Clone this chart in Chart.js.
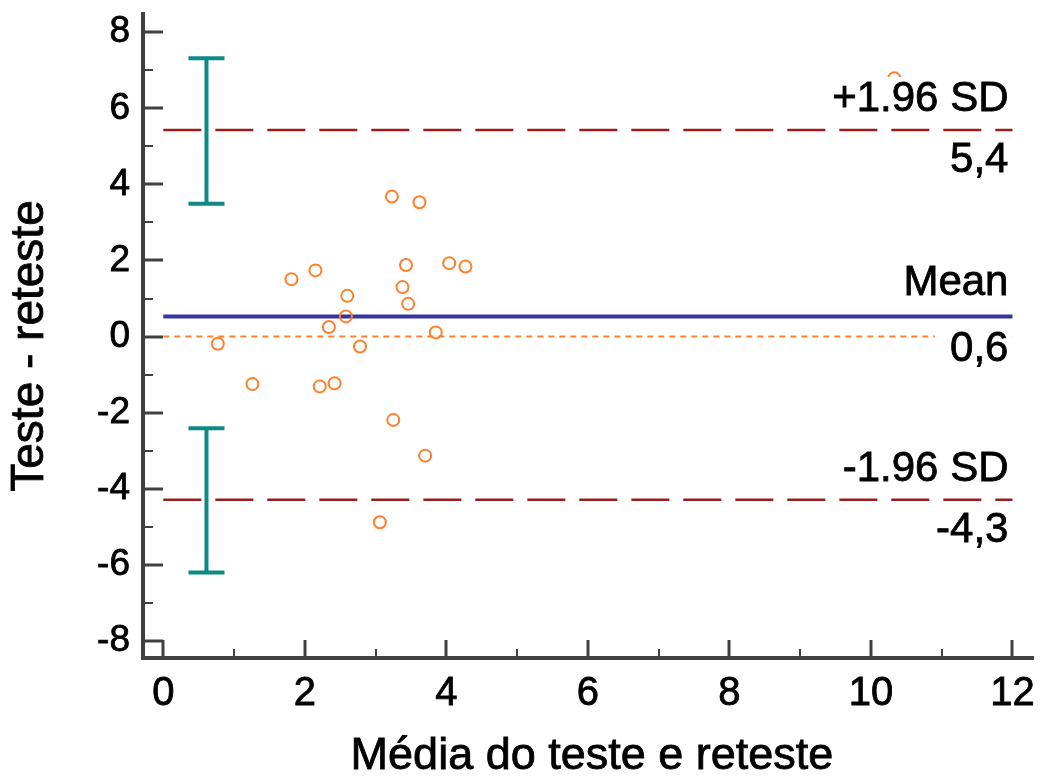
<!DOCTYPE html>
<html><head><meta charset="utf-8">
<script src="https://cdn.jsdelivr.net/npm/chart.js@4.4.1/dist/chart.umd.min.js"></script>
<style>html,body{margin:0;padding:0;background:#fff}canvas{display:block}</style>
</head><body>
<canvas id="c" width="1045" height="780"></canvas>
<script>
// ---- data ----
const meanValues = [0.77,1.26,1.81,2.15,2.21,2.42,2.34,2.58,2.60,2.78,3.06,3.23,3.25,3.38,3.43,3.46,3.62,3.70,3.85,4.04,4.27,10.33];
const diffValues = [-0.19,-1.25,1.51,1.74,-1.31,-1.23,0.25,0.53,1.07,-0.26,-4.88,3.68,-2.19,1.30,1.88,0.86,3.53,-3.13,0.11,1.93,1.84,6.79];
const limitValues = [5.43, 0.53, -4.29];          // +1.96 SD, mean, -1.96 SD
const limitNames = ['+1.96 SD', 'Mean', '-1.96 SD'];
const limitValueLabels = ['5,4', '0,6', '-4,3'];
const ciX = 0.61;
const upperCI = [3.49, 7.32];
const lowerCI = [-6.20, -2.41];
const xTicks = [0,2,4,6,8,10,12];
const xMinorTicks = [1,3,5,7,9,11];
const yTicks = [-8,-6,-4,-2,0,2,4,6,8];
const yMinorTicks = [-7,-5,-3,-1,1,3,5,7];
const xRange = [0, 12];
const xTitle = 'Média do teste e reteste';
const yTitle = 'Teste - reteste';

const FONT = '"Liberation Sans", Arial, sans-serif';
const AXIS = '#404040';
const TXT_STROKE = 0.8;

const points = meanValues.map((m,i)=>({x:m, y:diffValues[i]}));
const hline = v => [{x:xRange[0], y:v},{x:xRange[1], y:v}];

function heavyText(ctx, t, x, y){
  ctx.fillText(t, x, y);
  ctx.lineWidth = TXT_STROKE;
  ctx.strokeStyle = ctx.fillStyle;
  ctx.strokeText(t, x, y);
}

const deco = {
  id: 'deco',
  afterDatasetsDraw(chart){
    const ctx = chart.ctx, xs = chart.scales.x, ys = chart.scales.y, ca = chart.chartArea;
    ctx.save();
    // inward tick marks
    ctx.strokeStyle = AXIS;
    const vt = (v,len,w) => { const p = Math.round(xs.getPixelForValue(v)); ctx.lineWidth = w; ctx.beginPath(); ctx.moveTo(p, ca.bottom); ctx.lineTo(p, ca.bottom - len); ctx.stroke(); };
    const ht = (v,len,w) => { const p = Math.round(ys.getPixelForValue(v)); ctx.lineWidth = w; ctx.beginPath(); ctx.moveTo(ca.left, p); ctx.lineTo(ca.left + len, p); ctx.stroke(); };
    xTicks.forEach(v => vt(v, 18, 3));
    xMinorTicks.forEach(v => vt(v, 9, 2));
    yTicks.forEach(v => ht(v, 20, 3));
    yMinorTicks.forEach(v => ht(v, 10, 2));

    // error bars (CI of limits)
    ctx.strokeStyle = '#0e8a86';
    ctx.lineWidth = 4;
    const cx = xs.getPixelForValue(ciX);
    [upperCI, lowerCI].forEach(ci => {
      const y0 = ys.getPixelForValue(ci[0]), y1 = ys.getPixelForValue(ci[1]);
      ctx.beginPath();
      ctx.moveTo(cx, y0); ctx.lineTo(cx, y1);
      ctx.moveTo(cx - 18, y0); ctx.lineTo(cx + 18, y0);
      ctx.moveTo(cx - 18, y1); ctx.lineTo(cx + 18, y1);
      ctx.stroke();
    });

    // limit labels
    ctx.font = '42px ' + FONT;
    ctx.textAlign = 'right';
    ctx.textBaseline = 'alphabetic';
    const rx = xs.getPixelForValue(xRange[1]) - 4;
    limitValues.forEach((v,i) => {
      const p = ys.getPixelForValue(v);
      const isMean = i === 1;
      const aboveY = p - (isMean ? 21 : 19);
      const belowY = p + (isMean ? 45 : 42);
      [[limitNames[i], aboveY],[limitValueLabels[i], belowY]].forEach(([t,by]) => {
        const w = ctx.measureText(t).width;
        ctx.fillStyle = '#fff';
        ctx.fillRect(rx - w - 15, by - 34, w + 19, 40);
        ctx.fillStyle = '#000';
        heavyText(ctx, t, rx, by);
      });
    });

    // axis titles
    ctx.font = '45px ' + FONT;
    ctx.fillStyle = '#000';
    ctx.textAlign = 'center';
    ctx.textBaseline = 'middle';
    heavyText(ctx, xTitle, (ca.left + ca.right) / 2 + 4, 757);
    ctx.font = '46px ' + FONT;
    ctx.translate(30, 346);
    ctx.rotate(-Math.PI / 2);
    heavyText(ctx, yTitle, 0, 0);
    ctx.restore();
  }
};

new Chart(document.getElementById('c'), {
  type: 'scatter',
  data: {
    datasets: [
      { data: points, showLine: false, pointStyle: 'circle', pointRadius: 6, pointHoverRadius: 6,
        borderColor: '#ff7f2a', backgroundColor: 'rgba(255,255,255,0)', borderWidth: 2, order: 0 },
      { type: 'line', data: hline(limitValues[0]), borderColor: '#9b1b1b', borderWidth: 2.5, borderDash: [38,14], pointRadius: 0, order: 2 },
      { type: 'line', data: hline(limitValues[2]), borderColor: '#9b1b1b', borderWidth: 2.5, borderDash: [38,14], pointRadius: 0, order: 2 },
      { type: 'line', data: hline(limitValues[1]), borderColor: '#35359b', borderWidth: 4, pointRadius: 0, order: 1 },
      { type: 'line', data: hline(0), borderColor: '#ff7f2a', borderWidth: 2, borderDash: [6,5], pointRadius: 0, order: 3 }
    ]
  },
  options: {
    responsive: false,
    animation: false,
    devicePixelRatio: 1,
    layout: { padding: { top: 14, right: 12, left: 0, bottom: 0 } },
    plugins: { legend: { display: false }, tooltip: { enabled: false } },
    scales: {
      x: {
        type: 'linear', min: -0.287, max: 12.29,
        afterBuildTicks: s => { s.ticks = xTicks.map(v => ({value: v})); },
        afterFit: s => { s.height = 122; s.paddingLeft = 0; s.paddingRight = 0; },
        grid: { display: false, drawTicks: false },
        border: { display: true, color: AXIS, width: 4 },
        ticks: { autoSkip: false, maxRotation: 0, padding: 12, color: '#000', textStrokeColor: '#000', textStrokeWidth: TXT_STROKE, font: { family: FONT, size: 40 } },
        title: { display: false }
      },
      y: {
        type: 'linear', min: -8.45, max: 8.48,
        afterBuildTicks: s => { s.ticks = yTicks.map(v => ({value: v})); },
        afterFit: s => { s.width = 143; s.paddingTop = 0; s.paddingBottom = 0; },
        grid: { display: false, drawTicks: false },
        border: { display: true, color: AXIS, width: 4 },
        ticks: { autoSkip: false, padding: 13, color: '#000', textStrokeColor: '#000', textStrokeWidth: TXT_STROKE, font: { family: FONT, size: 37 } },
        title: { display: false }
      }
    }
  },
  plugins: [deco]
});
</script>
</body></html>
